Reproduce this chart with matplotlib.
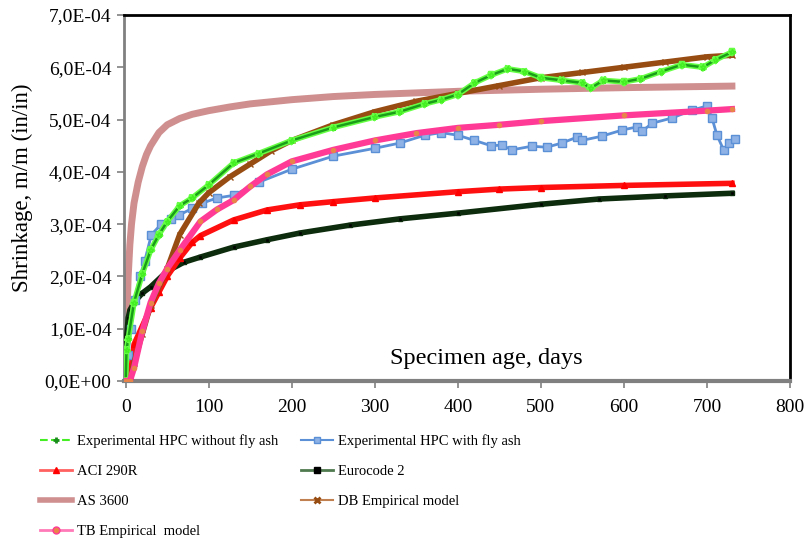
import matplotlib
matplotlib.use("Agg")
import matplotlib.pyplot as plt
import matplotlib.patheffects as pe
from matplotlib.lines import Line2D
from matplotlib.ticker import FuncFormatter, MultipleLocator

plt.rcParams["font.family"] = ["Liberation Serif", "DejaVu Serif"]

# ====================== data (shrinkage x 1e-4) ======================
days_wo = [0, 1, 3, 10, 20, 30, 40, 50, 65, 80, 100, 130, 160, 200, 250, 300, 330, 360, 380,
           400, 420, 440, 460, 480, 500, 525, 550, 560, 575, 600, 620, 645, 670, 695, 710, 730]
exp_wo = [0, 0.6, 0.8, 1.5, 2.05, 2.5, 2.8, 3.05, 3.35, 3.5, 3.75, 4.17, 4.35, 4.6, 4.85, 5.05, 5.15,
          5.3, 5.38, 5.48, 5.7, 5.85, 5.97, 5.92, 5.8, 5.75, 5.7, 5.6, 5.75, 5.72, 5.78, 5.92, 6.05,
          6.0, 6.14, 6.29]

days_fa = [0, 3, 6, 11, 17, 23, 31, 43, 55, 64, 80, 92, 110, 130, 160, 200, 250, 300, 330, 360,
           380, 400, 420, 440, 453, 465, 489, 507, 525, 543, 549, 573, 598, 616, 622, 634, 658,
           682, 700, 706, 712, 720, 727, 734]
exp_fa = [0, 0.5, 1.0, 1.55, 2.0, 2.3, 2.8, 3.0, 3.1, 3.17, 3.3, 3.4, 3.5, 3.55, 3.8, 4.05, 4.3,
          4.45, 4.55, 4.7, 4.75, 4.7, 4.6, 4.5, 4.51, 4.42, 4.49, 4.47, 4.55, 4.66, 4.6, 4.68, 4.8,
          4.86, 4.78, 4.93, 5.03, 5.18, 5.26, 5.03, 4.7, 4.42, 4.55, 4.63]

days_aci = [0, 5, 10, 20, 30, 40, 50, 65, 80, 90, 130, 170, 210, 250, 300, 400, 450, 500, 600, 730]
aci = [0, 0, 0.7, 1.05, 1.4, 1.7, 2.0, 2.35, 2.65, 2.78, 3.08, 3.27, 3.37, 3.43, 3.5, 3.62, 3.67,
       3.7, 3.74, 3.78]

days_ec = [0, 1, 3, 5, 10, 20, 30, 50, 70, 90, 130, 170, 210, 270, 330, 400, 500, 570, 650, 730]
ec2 = [0, 0.8, 1.2, 1.35, 1.5, 1.68, 1.8, 2.1, 2.27, 2.37, 2.56, 2.7, 2.83, 2.98, 3.1, 3.21,
       3.38, 3.48, 3.54, 3.59]

days_as = [0, 1, 2, 3, 5, 7, 10, 15, 20, 25, 30, 40, 50, 65, 80, 100, 125, 150, 200, 250, 300,
           400, 500, 600, 730]
as3600 = [0, 0.9, 1.5, 2.0, 2.6, 3.0, 3.4, 3.8, 4.1, 4.33, 4.5, 4.75, 4.9, 5.02, 5.1, 5.17, 5.24,
          5.3, 5.38, 5.44, 5.48, 5.54, 5.58, 5.61, 5.64]

days_db = [0, 5, 10, 20, 30, 50, 65, 88, 100, 125, 150, 175, 200, 250, 300, 350, 400, 450, 500,
           550, 600, 650, 700, 730]
db = [0, 0, 0.35, 0.9, 1.45, 2.15, 2.8, 3.4, 3.6, 3.9, 4.15, 4.4, 4.6, 4.9, 5.15, 5.35, 5.5,
      5.65, 5.8, 5.9, 6.0, 6.1, 6.2, 6.23]

days_tb = [0, 5, 10, 20, 30, 40, 50, 65, 90, 110, 130, 150, 170, 200, 250, 300, 350, 400, 450,
           500, 600, 700, 730]
tb = [0, 0, 0.25, 0.95, 1.5, 1.87, 2.15, 2.5, 3.05, 3.28, 3.46, 3.72, 3.95, 4.2, 4.42, 4.6, 4.74,
      4.84, 4.9, 4.97, 5.08, 5.17, 5.2]

labels = ['Experimental HPC without fly ash', 'Experimental HPC with fly ash', 'ACI 290R',
          'Eurocode 2', 'AS 3600', 'DB Empirical model', 'TB Empirical  model']


def scale(vals):
    return [v * 1e-4 for v in vals]


fig = plt.figure(figsize=(8.07, 5.45), dpi=100)
ax = fig.add_axes([0.1537, 0.301, 0.8253, 0.6715])

ax.plot(days_as, scale(as3600), color='#cf8f8f', lw=5, zorder=2)
ax.plot(days_ec, scale(ec2), color='#0d2b0d', lw=4, marker='s', ms=3.5,
        mfc='#000000', mec='#0d2b0d', zorder=3)
ax.plot(days_aci, scale(aci), color='#ff1010', lw=4, marker='^', ms=4.5,
        mfc='#ff0000', mec='#ff0000', zorder=3)
ax.plot(days_fa, scale(exp_fa), color='#5b8fd6', lw=2, marker='s', ms=6,
        mfc='#8fb2e6', mec='#5b8fd6', zorder=3)
ax.plot(days_db, scale(db), color='#974c12', lw=4, marker='x', ms=4,
        mec='#974c12', zorder=3)
ax.plot(days_wo, scale(exp_wo), color='#1a9e1a', lw=1.8, marker='*', ms=4,
        mfc='#55ff33', mec='#44ee22', zorder=4,
        path_effects=[pe.Stroke(linewidth=4, foreground='#66ff44'), pe.Normal()])
ax.plot(days_tb, scale(tb), color='#ff3a96', lw=4.5, marker='o', ms=3,
        mfc='#e8844a', mec='#e8844a', zorder=4)

ax.set_xlim(-2, 800)
ax.set_ylim(0, 7e-4)
ax.xaxis.set_major_locator(MultipleLocator(100))
ax.yaxis.set_major_locator(MultipleLocator(1e-4))
ax.yaxis.set_major_formatter(FuncFormatter(lambda v, p: f"{v:.1E}".replace('.', ',')))
ax.tick_params(labelsize=14, color='#808080', length=5, width=1.2, direction='out')
ax.tick_params(axis='x', pad=8)
ax.tick_params(axis='y', pad=4)

for side in ['top', 'right']:
    ax.spines[side].set_color('black')
    ax.spines[side].set_linewidth(2)
ax.spines['left'].set_color('#808080')
ax.spines['left'].set_linewidth(2)
ax.spines['bottom'].set_color('#808080')
ax.spines['bottom'].set_linewidth(3)

ax.set_ylabel('Shrinkage, m/m (in/in)', fontsize=16.5)
ax.yaxis.set_label_coords(-0.137, 0.527)
ax.text(0.544, 0.062, 'Specimen age, days', transform=ax.transAxes, fontsize=17.5,
        ha='center', va='center')

# legend proxies (thinner lines like the original legend)
h_wo = Line2D([], [], color='#44ee22', ls='--', lw=1.5, marker='+', ms=5, mec='#1a8e1a', mew=2)
h_fa = Line2D([], [], color='#5b8fd6', lw=1.5, marker='s', ms=5, mfc='#8fb2e6', mec='#5b8fd6')
h_aci = Line2D([], [], color='#ff6060', lw=2, marker='^', ms=5, mfc='#ff0000', mec='#ff0000')
h_ec = Line2D([], [], color='#4f7a4f', lw=2, marker='s', ms=4, mfc='#000000', mec='#000000')
h_as = Line2D([], [], color='#cf8f8f', lw=4)
h_db = Line2D([], [], color='#c08050', lw=1.5, marker='x', ms=4, mec='#974c12', mew=2)
h_tb = Line2D([], [], color='#ff7ab8', lw=2, marker='o', ms=5, mfc='#e8844a', mec='#ff3a96')

handles = [h_wo, h_aci, h_as, h_tb, h_fa, h_ec, h_db]
order = [0, 2, 4, 6, 1, 3, 5]
fig.legend(handles=handles, labels=[labels[i] for i in order], ncol=2,
           loc='upper left', bbox_to_anchor=(0.05, 0.203), frameon=False, fontsize=10.5,
           handlelength=2.2, handletextpad=0.3, columnspacing=1.6, labelspacing=1.15,
           borderaxespad=0, borderpad=0)

fig.savefig('out.png', dpi=100)
